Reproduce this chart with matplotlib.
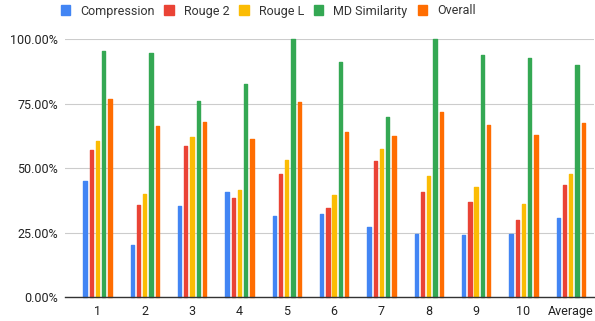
import matplotlib
matplotlib.use("Agg")
import matplotlib.pyplot as plt
import numpy as np
from matplotlib.ticker import FuncFormatter

categories = ["1", "2", "3", "4", "5", "6", "7", "8", "9", "10", "Average"]
compression = [45.1, 20.0, 35.3, 40.6, 31.5, 32.4, 27.0, 24.5, 24.2, 24.5, 30.6]
rouge2 = [57.0, 35.7, 58.7, 38.5, 47.9, 34.4, 52.8, 40.7, 36.8, 29.8, 43.4]
rougeL = [60.7, 40.1, 61.9, 41.7, 53.2, 39.4, 57.5, 46.8, 42.6, 36.2, 47.9]
md_similarity = [95.6, 94.8, 76.2, 82.6, 100.0, 91.1, 69.8, 100.0, 93.9, 92.6, 89.9]
overall = [77.0, 66.4, 68.1, 61.2, 75.6, 64.0, 62.4, 71.8, 66.8, 62.7, 67.6]

series = [
    ("Compression", compression, "#4285F4"),
    ("Rouge 2", rouge2, "#EA4335"),
    ("Rouge L", rougeL, "#FBBC04"),
    ("MD Similarity", md_similarity, "#34A853"),
    ("Overall", overall, "#FF6D01"),
]

plt.rcParams['font.family'] = ['Roboto', 'DejaVu Sans']

fig = plt.figure(figsize=(5.95, 3.21), dpi=100)
ax = fig.add_axes([65/595, 1-297/321, (594-65)/595, (297-39.3)/321])

x = np.arange(len(categories))
pitch = 0.133
width = 0.07
for i, (name, vals, col) in enumerate(series):
    ax.bar(x + (i-2)*pitch, np.array(vals)/100.0, width=width, color=col,
           edgecolor=col, linewidth=1.0, joinstyle='round',
           label=name, zorder=3, clip_on=False)

ax.set_ylim(0, 1.0)
ax.set_xlim(-0.686, 10.49)
ax.set_yticks([0, 0.25, 0.5, 0.75, 1.0])
ax.yaxis.set_major_formatter(FuncFormatter(lambda v, p: f"{v*100:.2f}%"))
ax.set_xticks(x)
ax.set_xticklabels(categories)
ax.grid(axis='y', color='#cccccc', linewidth=0.8, zorder=0)
for s in ['top', 'right', 'left']:
    ax.spines[s].set_visible(False)
ax.spines['bottom'].set_color('#333333')
ax.spines['bottom'].set_linewidth(1.0)
ax.spines['bottom'].set_zorder(4)
ax.tick_params(axis='both', length=0, labelsize=9, labelcolor='#222222')
ax.tick_params(axis='y', pad=5)
ax.tick_params(axis='x', pad=6)

handles, labels = ax.get_legend_handles_labels()
fig.legend(handles, labels, loc='center', bbox_to_anchor=(268/595, 1-11/321),
           ncol=5, frameon=False, fontsize=9, handlelength=0.75, handleheight=0.9,
           handletextpad=0.8, columnspacing=0.8, labelcolor='#333333')

fig.savefig("out.png", dpi=100)
